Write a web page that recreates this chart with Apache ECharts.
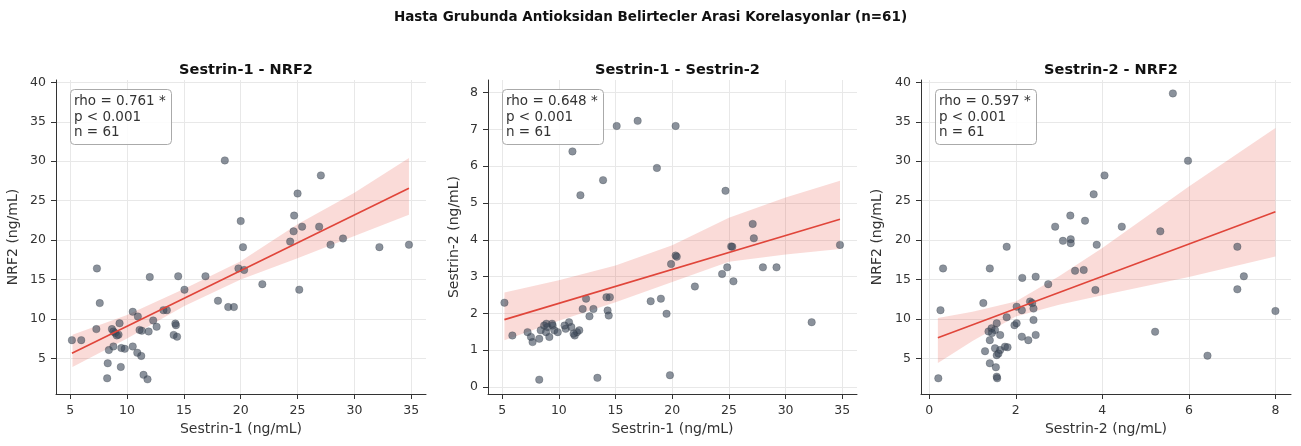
<!DOCTYPE html>
<html>
<head>
<meta charset="utf-8">
<script src="https://cdn.jsdelivr.net/npm/echarts@6/dist/echarts.min.js"></script>
<style>
html,body{margin:0;padding:0;background:#fff;}
#chart{width:1301px;height:446px;}
</style>
</head>
<body>
<div id="chart"></div>
<script>
// ---------- DATA ----------
const mainTitle = 'Hasta Grubunda Antioksidan Belirtecler Arasi Korelasyonlar (n=61)';
const panelTitles = ['Sestrin-1 - NRF2', 'Sestrin-1 - Sestrin-2', 'Sestrin-2 - NRF2'];
const xNames = ['Sestrin-1 (ng/mL)', 'Sestrin-1 (ng/mL)', 'Sestrin-2 (ng/mL)'];
const yNames = ['NRF2 (ng/mL)', 'Sestrin-2 (ng/mL)', 'NRF2 (ng/mL)'];
const statTexts = [
  'rho = 0.761 *\np < 0.001\nn = 61',
  'rho = 0.648 *\np < 0.001\nn = 61',
  'rho = 0.597 *\np < 0.001\nn = 61'
];

// tick labels
const sestrin1Ticks = [5, 10, 15, 20, 25, 30, 35];
const sestrin2TicksX = [0, 2, 4, 6, 8];
const nrf2Ticks = [5, 10, 15, 20, 25, 30, 35, 40];
const sestrin2TicksY = [0, 1, 2, 3, 4, 5, 6, 7, 8];

// points: [x, y]
const sestrin1VsNrf2 = [
  [5.15,7.3],[5.97,7.3],[7.35,16.4],[7.6,12.0],[7.3,8.7],[8.67,8.7],[8.4,6.05],[8.8,6.5],[8.3,4.37],[8.25,2.46],
  [9.34,9.44],[8.95,8.2],[9.25,8.0],[9.1,7.9],[9.5,6.3],[9.8,6.2],[9.45,3.9],[10.5,10.9],[10.5,6.5],[10.95,10.3],
  [10.9,5.7],[11.25,5.3],[11.3,8.5],[11.9,8.4],[11.45,2.9],[11.8,2.33],[12.0,15.3],[12.3,9.8],[12.6,9.0],[13.2,11.1],
  [13.5,11.1],[14.25,9.4],[14.1,7.96],[14.4,7.74],[14.5,15.4],[15.05,13.7],[16.9,15.4],[18.0,12.3],[18.9,11.5],[19.4,11.5],
  [19.8,16.4],[20.3,16.2],[20.2,19.1],[21.9,14.4],[25.15,13.7],[27.9,19.4],[29.0,20.2],[32.2,19.1],[34.8,19.4],[18.6,30.1],
  [20.0,22.4],[25.0,25.9],[27.05,28.2],[24.7,23.1],[24.65,21.1],[25.4,21.7],[26.9,21.7],[24.35,19.8],[11.1,8.6],[8.8,8.4],[14.3,9.2]
];
const sestrin1VsSestrin2 = [
  [11.2,6.40],[11.9,5.21],[13.9,5.62],[15.1,7.09],[16.95,7.23],[20.3,7.09],[18.65,5.95],[24.7,5.33],[27.1,4.43],[27.2,4.04],
  [25.2,3.82],[34.8,3.86],[5.2,2.29],[5.9,1.40],[7.24,1.49],[7.54,1.36],[7.68,1.22],[8.27,1.31],[8.4,1.54],[8.7,1.67],
  [8.87,1.49],[9.0,1.63],[9.16,1.36],[9.45,1.67],[9.6,1.54],[9.9,1.49],[10.6,1.58],[10.9,1.76],[11.1,1.63],[11.4,1.40],
  [11.6,1.49],[11.8,1.54],[12.1,2.12],[12.4,2.40],[12.7,1.92],[13.05,2.12],[14.2,2.44],[14.5,2.44],[14.3,2.08],[14.4,1.94],
  [18.1,2.33],[19.0,2.40],[19.5,1.99],[19.9,3.34],[20.3,3.57],[20.4,3.54],[22.0,2.73],[24.4,3.07],[24.85,3.25],[25.4,2.87],
  [25.3,3.81],[28.0,3.25],[29.2,3.25],[32.3,1.76],[8.27,0.20],[13.4,0.25],[19.8,0.32],[8.9,1.72],[9.4,1.72],[10.5,1.67],[11.3,1.45]
];
const sestrin2VsNrf2 = [
  [5.63,38.6],[5.98,30.06],[4.05,28.2],[3.80,25.8],[3.26,23.1],[2.91,21.7],[3.60,22.45],[4.45,21.7],[5.34,21.1],[3.09,19.9],
  [3.27,20.1],[3.27,19.6],[3.87,19.4],[1.79,19.15],[7.12,19.15],[2.75,14.4],[3.37,16.1],[3.57,16.2],[3.84,13.66],[7.27,15.4],
  [7.12,13.75],[8.0,11.0],[5.22,8.37],[6.43,5.33],[0.32,16.4],[1.40,16.4],[2.15,15.2],[2.46,15.35],[1.25,12.0],[0.26,11.1],
  [2.02,11.55],[2.14,11.1],[2.33,12.2],[2.41,11.3],[1.79,10.2],[1.97,9.2],[2.02,9.44],[2.41,9.86],[1.56,9.44],[1.44,8.8],
  [1.37,8.4],[1.52,8.6],[1.64,7.95],[1.40,7.3],[2.14,7.74],[2.29,7.3],[2.46,7.96],[1.29,5.9],[1.52,6.27],[1.64,6.05],
  [1.75,6.47],[1.81,6.4],[1.56,5.4],[1.60,5.6],[1.40,4.37],[1.54,3.86],[1.56,2.67],[1.57,2.46],[0.21,2.46],[1.45,8.2],[2.38,12.0]
];

// regression lines (endpoints)
const fit1 = [[5.15, 5.63], [34.8, 26.56]];
const fit2 = [[5.2, 1.83], [34.8, 4.56]];
const fit3 = [[0.2, 7.6], [8.0, 23.6]];

// confidence bands: x, lower, upper
const band1X = [5.2, 10, 15, 20, 25, 30, 34.8];
const band1Lo = [3.9, 7.5, 11.6, 15.0, 17.7, 20.5, 23.2];
const band1Hi = [8.0, 10.5, 13.8, 17.3, 22.0, 26.0, 30.4];
const band2X = [5.2, 10, 15, 20, 25, 30, 34.8];
const band2Lo = [1.27, 1.80, 2.30, 2.85, 3.40, 3.60, 3.75];
const band2Hi = [2.57, 2.90, 3.30, 3.85, 4.60, 5.15, 5.60];
const band3X = [0.2, 1, 2, 3, 4, 6, 8];
const band3Lo = [4.4, 7.2, 10.3, 11.8, 13.0, 15.3, 17.9];
const band3Hi = [10.1, 10.9, 12.2, 15.4, 19.0, 26.8, 34.2];

// ---------- CHART ----------
const FONT = 'DejaVu Sans';
const chart = echarts.init(document.getElementById('chart'), null, {renderer: 'canvas'});

const grids = [
  {left: 56, top: 80, width: 370, height: 314},
  {left: 488, top: 80, width: 369, height: 314},
  {left: 921, top: 80, width: 370, height: 314}
];
const xRanges = [[3.75, 36.3], [3.75, 36.3], [-0.19, 8.36]];
const yRanges = [[0.47, 40.3], [-0.19, 8.34], [0.47, 40.3]];
const xTicks = [sestrin1Ticks, sestrin1Ticks, sestrin2TicksX];
const yTicks = [nrf2Ticks, sestrin2TicksY, nrf2Ticks];
const yNameGaps = [36, 27, 37];
const points = [sestrin1VsNrf2, sestrin1VsSestrin2, sestrin2VsNrf2];
const fits = [fit1, fit2, fit3];
const bands = [[band1X, band1Lo, band1Hi], [band2X, band2Lo, band2Hi], [band3X, band3Lo, band3Hi]];

function axisCommon(ticks) {
  return {
    axisLine: {show: true, onZero: false, lineStyle: {color: '#333', width: 1}},
    axisTick: {show: true, inside: false, length: 5, customValues: ticks, lineStyle: {color: '#333'}},
    axisLabel: {customValues: ticks, color: '#333', fontSize: 12.5, fontFamily: FONT, margin: 10},
    splitLine: {show: true, lineStyle: {color: '#e8e8e8', width: 1}},
    nameTextStyle: {color: '#333', fontSize: 14, fontFamily: FONT}
  };
}

const xAxes = [], yAxes = [], series = [], titles = [];
titles.push({text: mainTitle, left: 'center', top: 5,
  textStyle: {fontSize: 13.5, fontWeight: 'bold', fontFamily: FONT, color: '#111'}});

for (let i = 0; i < 3; i++) {
  xAxes.push(Object.assign({type: 'value', gridIndex: i, min: xRanges[i][0], max: xRanges[i][1],
    name: xNames[i], nameLocation: 'middle', nameGap: 27}, axisCommon(xTicks[i])));
  yAxes.push(Object.assign({type: 'value', gridIndex: i, min: yRanges[i][0], max: yRanges[i][1],
    name: yNames[i], nameLocation: 'middle', nameGap: yNameGaps[i]}, axisCommon(yTicks[i])));

  const g = grids[i];
  titles.push({text: panelTitles[i], left: g.left + g.width / 2, top: 58, textAlign: 'center',
    textStyle: {fontSize: 14.5, fontWeight: 'bold', fontFamily: FONT, color: '#111'}});
  titles.push({text: statTexts[i], left: g.left + 14, top: 89,
    padding: [5, 6, 4, 4], backgroundColor: 'rgba(255,255,255,0.85)', borderColor: '#aaa', borderWidth: 1, borderRadius: 4,
    textStyle: {fontSize: 13.5, fontWeight: 'normal', fontFamily: FONT, color: '#333', lineHeight: 15.5}});

  const [bx, blo, bhi] = bands[i];
  series.push({
    type: 'custom', xAxisIndex: i, yAxisIndex: i, silent: true, z: 1,
    data: bx.map((x, k) => [x, blo[k], bhi[k]]),
    renderItem: function (params, api) {
      if (params.dataIndex !== 0) return null;
      const pts = [];
      for (let k = 0; k < bx.length; k++) pts.push(api.coord([bx[k], bhi[k]]));
      for (let k = bx.length - 1; k >= 0; k--) pts.push(api.coord([bx[k], blo[k]]));
      return {type: 'polygon', shape: {points: pts}, style: {fill: 'rgba(231,76,60,0.20)', stroke: 'none'}};
    }
  });
  series.push({
    type: 'scatter', xAxisIndex: i, yAxisIndex: i, z: 3, symbolSize: 7.5,
    data: points[i],
    itemStyle: {color: 'rgba(60,72,88,0.75)', borderColor: 'rgba(40,50,60,0.6)', borderWidth: 0.5}
  });
  series.push({
    type: 'line', xAxisIndex: i, yAxisIndex: i, z: 4, showSymbol: false, silent: true,
    data: fits[i],
    lineStyle: {color: '#e0453a', width: 1.6}
  });
}

chart.setOption({
  animation: false,
  backgroundColor: '#fff',
  title: titles,
  grid: grids,
  xAxis: xAxes,
  yAxis: yAxes,
  series: series
});
</script>
</body>
</html>
